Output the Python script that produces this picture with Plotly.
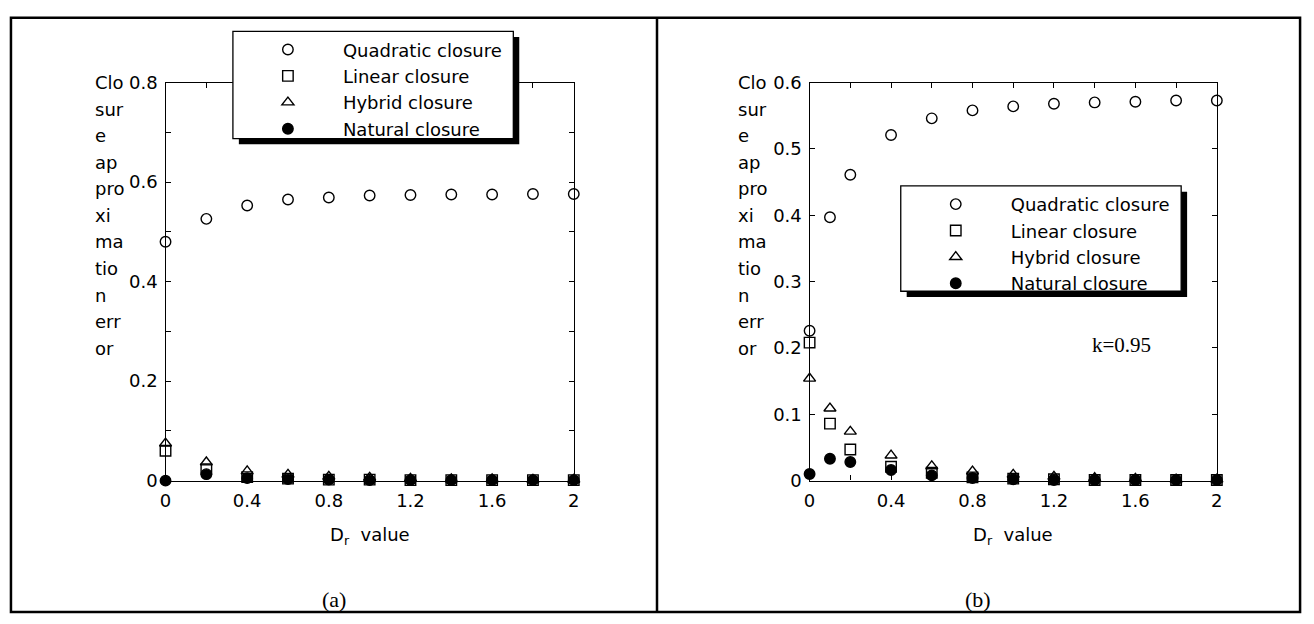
"""Closure approximation error vs D_r, two panels (a) and (b)."""
import plotly.graph_objects as go

W, H = 1314, 624

# ---- data -------------------------------------------------------------
SERIES = ["Quadratic closure", "Linear closure", "Hybrid closure", "Natural closure"]

DR_A = [0, 0.2, 0.4, 0.6, 0.8, 1.0, 1.2, 1.4, 1.6, 1.8, 2.0]
QUAD_A = [0.480, 0.526, 0.553, 0.565, 0.569, 0.573, 0.574, 0.575, 0.575, 0.576, 0.576]
LIN_A = [0.060, 0.023, 0.007, 0.004, 0.002, 0.002, 0.001, 0.001, 0.001, 0.001, 0.001]
HYB_A = [0.075, 0.037, 0.019, 0.012, 0.008, 0.006, 0.004, 0.003, 0.003, 0.002, 0.002]
NAT_A = [0.000, 0.013, 0.005, 0.003, 0.002, 0.001, 0.001, 0.001, 0.001, 0.001, 0.001]

DR_B = [0, 0.1, 0.2, 0.4, 0.6, 0.8, 1.0, 1.2, 1.4, 1.6, 1.8, 2.0]
QUAD_B = [0.226, 0.397, 0.461, 0.521, 0.546, 0.558, 0.564, 0.568, 0.570, 0.571, 0.573, 0.573]
LIN_B = [0.208, 0.086, 0.047, 0.021, 0.012, 0.005, 0.003, 0.002, 0.001, 0.001, 0.001, 0.001]
HYB_B = [0.154, 0.109, 0.074, 0.038, 0.022, 0.014, 0.009, 0.006, 0.004, 0.003, 0.002, 0.002]
NAT_B = [0.010, 0.033, 0.028, 0.016, 0.008, 0.004, 0.002, 0.001, 0.001, 0.001, 0.001, 0.001]

X_TICKS = [0, 0.4, 0.8, 1.2, 1.6, 2.0]
X_TICKTEXT = ["0", "0.4", "0.8", "1.2", "1.6", "2"]
X_MINOR = [0.2, 0.6, 1.0, 1.4, 1.8]
Y_TICKS_A = [0, 0.2, 0.4, 0.6, 0.8]
Y_TICKTEXT_A = ["0", "0.2", "0.4", "0.6", "0.8"]
Y_MINOR_A = [0.1, 0.3, 0.5, 0.7]
Y_TICKS_B = [0, 0.1, 0.2, 0.3, 0.4, 0.5, 0.6]
Y_TICKTEXT_B = ["0", "0.1", "0.2", "0.3", "0.4", "0.5", "0.6"]

# the y title is wrapped in a very narrow text box in the original
Y_TITLE_LINES = ["Clo", "sur", "e", "ap", "pro", "xi", "ma", "tio", "n", "err", "or"]
X_TITLE = "D<sub>r</sub>\u00a0 value"
PANEL_LABELS = ["(a)", "(b)"]
K_NOTE = "k=0.95"

SANS = "DejaVu Sans"
SERIF = "Liberation Serif"
FS = 18

SYMBOLS = {
    "Quadratic closure": "circle-open",
    "Linear closure": "square-open",
    "Hybrid closure": "triangle-up-open",
    "Natural closure": "circle",
}


def px(x):
    return x / W


def py(y):
    return 1 - y / H


fig = go.Figure()

panels = [
    dict(xa="x", ya="y", leg="legend", data=[QUAD_A, LIN_A, HYB_A, NAT_A], dr=DR_A),
    dict(xa="x2", ya="y2", leg="legend2", data=[QUAD_B, LIN_B, HYB_B, NAT_B], dr=DR_B),
]
for p in panels:
    for name, ys in zip(SERIES, p["data"]):
        fig.add_trace(go.Scatter(
            x=p["dr"], y=ys, name=name, mode="markers",
            xaxis=p["xa"], yaxis=p["ya"], legend=p["leg"],
            cliponaxis=False,
            marker=dict(symbol=SYMBOLS[name], size=10.5, color="black",
                        line=dict(width=1.4, color="black")),
            hoverinfo="x+y+name",
        ))

# plot areas (pixels): a -> x 161..573, b -> x 811..1222, both y 74..486
axis_common = dict(
    showline=True, linecolor="black", linewidth=1.4, mirror="ticks",
    ticks="inside", ticklen=5, tickwidth=1.2, tickcolor="black",
    showgrid=False, zeroline=False, tickmode="array",
    tickfont=dict(family=SANS, size=FS, color="black"),
)
minor_common = dict(ticks="inside", ticklen=5, tickwidth=1.2, tickcolor="black", showgrid=False)
fig.update_layout(
    xaxis=dict(domain=[px(161), px(573)], range=[0, 2], anchor="y",
               tickvals=X_TICKS, ticktext=X_TICKTEXT, ticklabelstandoff=4,
               minor=dict(tickvals=X_MINOR, **minor_common), **axis_common),
    yaxis=dict(domain=[py(486), py(74)], range=[0, 0.8], anchor="x",
               tickvals=Y_TICKS_A, ticktext=Y_TICKTEXT_A, ticklabelstandoff=3,
               minor=dict(tickvals=Y_MINOR_A, **minor_common), **axis_common),
    xaxis2=dict(domain=[px(811), px(1222)], range=[0, 2], anchor="y2",
                tickvals=X_TICKS, ticktext=X_TICKTEXT, ticklabelstandoff=4,
                minor=dict(tickvals=X_MINOR, **minor_common), **axis_common),
    yaxis2=dict(domain=[py(486), py(74)], range=[0, 0.6], anchor="x2",
                tickvals=Y_TICKS_B, ticktext=Y_TICKTEXT_B, ticklabelstandoff=3,
                **axis_common),
)

# legends: frame + drop shadow drawn as shapes, legend itself transparent
legend_common = dict(
    bgcolor="rgba(0,0,0,0)", borderwidth=0, itemwidth=100,
    font=dict(family=SANS, size=FS, color="black"),
    xanchor="left", yanchor="top", tracegroupgap=0,
)
boxes = [(229, 21, 512, 132), (903, 181, 1186, 290)]
fig.update_layout(
    legend=dict(x=px(boxes[0][0]), y=py(boxes[0][1]), **legend_common),
    legend2=dict(x=px(boxes[1][0]), y=py(boxes[1][1]), **legend_common),
)

shapes = []
for x0, y0, x1, y1 in boxes:
    shapes.append(dict(type="rect", xref="paper", yref="paper", layer="above",
                       x0=px(x0 + 6), x1=px(x1 + 6), y0=py(y0 + 6), y1=py(y1 + 6),
                       fillcolor="black", line=dict(width=0)))
    shapes.append(dict(type="rect", xref="paper", yref="paper", layer="above",
                       x0=px(x0), x1=px(x1), y0=py(y0), y1=py(y1),
                       fillcolor="white", line=dict(width=1.3, color="black")))
# outer table frame and the divider
shapes.append(dict(type="rect", xref="paper", yref="paper", x0=px(5), x1=px(1306),
                   y0=py(622), y1=py(7), line=dict(width=2.5, color="black")))
shapes.append(dict(type="line", xref="paper", yref="paper", x0=px(657), x1=px(657),
                   y0=py(622), y1=py(7), line=dict(width=2.5, color="black")))

annotations = []
for title_x, plot_mid in [(88, 367), (737, 1016)]:
    for i, line in enumerate(Y_TITLE_LINES):
        annotations.append(dict(text=line, xref="paper", yref="paper", showarrow=False,
                                x=px(title_x), y=py(74 + i * 27.5), xanchor="left", yanchor="middle",
                                font=dict(family=SANS, size=FS, color="black")))
    annotations.append(dict(text=X_TITLE, xref="paper", yref="paper", showarrow=False,
                            x=px(plot_mid), y=py(543), xanchor="center", yanchor="middle",
                            font=dict(family=SANS, size=FS, color="black")))
for label, label_x in zip(PANEL_LABELS, [331, 981]):
    annotations.append(dict(text=label, xref="paper", yref="paper", showarrow=False,
                            x=px(label_x), y=py(609), xanchor="center", yanchor="middle",
                            font=dict(family=SERIF, size=22, color="black")))
annotations.append(dict(text=K_NOTE, xref="x2", yref="y2", showarrow=False,
                        x=1.53, y=0.205, xanchor="center", yanchor="middle",
                        font=dict(family=SERIF, size=21, color="black")))

fig.update_layout(
    width=W, height=H, autosize=False,
    margin=dict(l=0, r=0, t=0, b=0, pad=0),
    paper_bgcolor="white", plot_bgcolor="white",
    showlegend=True, shapes=shapes, annotations=annotations,
)

# the page's default body margin would shift the fixed-size figure by 8px
fig.write_html("out.html", config={"displayModeBar": False},
               post_script="document.body.style.margin='0';")
